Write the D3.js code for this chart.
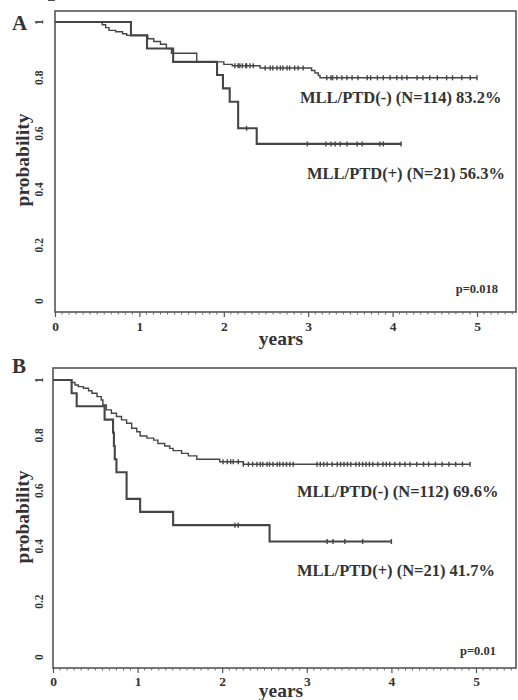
<!DOCTYPE html>
<html><head><meta charset="utf-8">
<script src="https://cdn.jsdelivr.net/npm/d3@7"></script>
<style>
html,body{margin:0;padding:0;background:#fff;}
svg{display:block;}
text{font-family:"Liberation Serif","Times New Roman",serif;fill:#333;}
</style></head>
<body>
<script>
// ---- data ----
const xTicks = [0, 1, 2, 3, 4, 5];
const yTicks = [0, 0.2, 0.4, 0.6, 0.8, 1];
const yTickLabels = ["0", "0.2", "0.4", "0.6", "0.8", "1"];

// Panel A : MLL/PTD(-)
const aNegTimes = [0, 0.56, 0.6, 0.64, 0.72, 0.8, 0.85, 1.1, 1.17, 1.25, 1.32, 1.38, 1.68, 2.0, 2.1, 2.43, 3.04, 3.08, 3.12, 3.14];
const aNegSurv  = [1, 0.99, 0.98, 0.97, 0.965, 0.958, 0.952, 0.94, 0.93, 0.92, 0.905, 0.888, 0.857, 0.848, 0.843, 0.835, 0.826, 0.817, 0.808, 0.80];
const aNegEnd = 5.0;
const aNegCensor = [2.13, 2.17, 2.19, 2.22, 2.26, 2.27, 2.31, 2.35, 2.49, 2.55, 2.58, 2.63, 2.67, 2.70, 2.75, 2.78, 2.84, 2.88, 2.94,
  3.22, 3.27, 3.29, 3.34, 3.40, 3.46, 3.52, 3.59, 3.70, 3.74, 3.82, 3.89, 3.97, 4.05, 4.11, 4.17, 4.29, 4.36, 4.44, 4.53, 4.64, 4.71, 4.82, 4.92, 5.0];
// Panel A : MLL/PTD(+)
const aPosTimes = [0, 0.9, 1.09, 1.4, 1.92, 1.99, 2.07, 2.17, 2.39];
const aPosSurv  = [1, 0.952, 0.905, 0.857, 0.81, 0.762, 0.714, 0.619, 0.563];
const aPosEnd = 4.1;
const aPosCensor = [2.27, 2.99, 3.21, 3.27, 3.32, 3.38, 3.46, 3.58, 3.64, 3.85, 3.89, 4.1];

// Panel B : MLL/PTD(-)
const bNegTimes = [0, 0.22, 0.26, 0.30, 0.36, 0.42, 0.46, 0.52, 0.57, 0.59, 0.63, 0.69, 0.75, 0.81, 0.87, 0.93, 0.99, 1.03, 1.11, 1.19, 1.24, 1.32, 1.38, 1.42, 1.52, 1.60, 1.70, 1.97, 2.25];
const bNegSurv  = [1, 0.991, 0.982, 0.976, 0.970, 0.961, 0.952, 0.940, 0.928, 0.910, 0.892, 0.880, 0.868, 0.856, 0.844, 0.826, 0.813, 0.798, 0.790, 0.783, 0.771, 0.762, 0.753, 0.745, 0.735, 0.726, 0.714, 0.705, 0.696];
const bNegEnd = 4.93;
const bNegCensor = [2.01, 2.06, 2.1, 2.13, 2.19, 2.25, 2.31, 2.36, 2.41, 2.45, 2.48, 2.53, 2.56, 2.6, 2.65, 2.68, 2.72, 2.76, 2.8, 2.84,
  3.12, 3.16, 3.2, 3.24, 3.3, 3.36, 3.4, 3.44, 3.48, 3.52, 3.58, 3.62, 3.66, 3.7, 3.74, 3.78, 3.84, 3.9, 3.94, 3.98, 4.04, 4.1, 4.16, 4.22, 4.3, 4.38, 4.44, 4.52, 4.6, 4.68, 4.76, 4.84, 4.93];
// Panel B : MLL/PTD(+)
const bPosTimes = [0, 0.22, 0.28, 0.61, 0.71, 0.72, 0.73, 0.75, 0.87, 1.03, 1.42, 2.56];
const bPosSurv  = [1, 0.952, 0.905, 0.857, 0.81, 0.762, 0.714, 0.667, 0.571, 0.524, 0.476, 0.417];
const bPosEnd = 4.0;
const bPosCensor = [2.15, 2.19, 3.24, 3.31, 3.45, 3.66, 4.0];

const panelLetters = ["A", "B"];
const negLabels = ["MLL/PTD(-) (N=114) 83.2%", "MLL/PTD(-) (N=112) 69.6%"];
const posLabels = ["MLL/PTD(+) (N=21) 56.3%", "MLL/PTD(+) (N=21) 41.7%"];
const pLabels = ["p=0.018", "p=0.01"];

// ---- drawing ----
const svg = d3.select("body").append("svg").attr("width", 518).attr("height", 700);
const ink = "#454545";

const panels = [
  {letter: panelLetters[0], neg: [aNegTimes, aNegSurv, aNegEnd, aNegCensor], pos: [aPosTimes, aPosSurv, aPosEnd, aPosCensor],
   negLab: negLabels[0], posLab: posLabels[0], pLab: pLabels[0],
   left: 55, right: 516, top: 11, axisY: 312, x5: 477, y0: 301, y1: 22,
   letterY: 30, negLabY: 103, negLabX: 300, posLabY: 179, posLabX: 307, pY: 293, pX: 498, xLabY: 331, yearsY: 345, probY: 160},
  {letter: panelLetters[1], neg: [bNegTimes, bNegSurv, bNegEnd, bNegCensor], pos: [bPosTimes, bPosSurv, bPosEnd, bPosCensor],
   negLab: negLabels[1], posLab: posLabels[1], pLab: pLabels[1],
   left: 53, right: 516, top: 368, axisY: 668, x5: 476, y0: 657, y1: 380,
   letterY: 373, negLabY: 497, negLabX: 297, posLabY: 576, posLabX: 297, pY: 655, pX: 496, xLabY: 686, yearsY: 697, probY: 517}
];

panels.forEach(P => {
  const g = svg.append("g");
  const x = d3.scaleLinear().domain([0, 5]).range([P.left, P.x5]);
  const y = d3.scaleLinear().domain([0, 1]).range([P.y0, P.y1]);

  // frame
  g.append("rect").attr("x", P.left).attr("y", P.top).attr("width", P.right - P.left).attr("height", P.axisY - P.top)
    .attr("fill", "none").attr("stroke", "#555").attr("stroke-width", 1.6);

  // x axis (major ticks)
  const xAxis = d3.axisBottom(x).tickValues(xTicks).tickSize(5).tickFormat(d3.format("d"));
  const xa = g.append("g").attr("transform", `translate(0,${P.axisY})`).call(xAxis);
  xa.select(".domain").remove();
  xa.selectAll("line").attr("stroke", "#555").attr("stroke-width", 1.2);
  xa.selectAll("text").attr("y", P.xLabY - P.axisY).attr("dy", 0).attr("font-size", 13.5).attr("font-weight", "bold")
    .attr("font-family", "Liberation Serif").attr("fill", "#333");
  // minor monthly ticks
  const minor = d3.range(1, 66).map(i => i / 12).filter(v => x(v) < P.right - 1 && Math.abs(v - Math.round(v)) > 1e-6);
  g.selectAll(".mt").data(minor).join("line").attr("x1", d => x(d)).attr("x2", d => x(d))
    .attr("y1", P.axisY).attr("y2", P.axisY + 2.5).attr("stroke", "#666").attr("stroke-width", 1);

  // y axis
  const yAxis = d3.axisLeft(y).tickValues(yTicks).tickSize(5).tickFormat((d, i) => yTickLabels[i]);
  const ya = g.append("g").attr("transform", `translate(${P.left},0)`).call(yAxis);
  ya.select(".domain").remove();
  ya.selectAll("line").attr("stroke", "#555").attr("stroke-width", 1.2);
  ya.selectAll("text").attr("x", 0).attr("dy", 0).attr("text-anchor", "middle")
    .attr("transform", d => `translate(${43 - P.left},${y(d)}) rotate(-90)`)
    .attr("y", 0).attr("font-size", 11.5).attr("font-weight", "bold").attr("font-family", "Liberation Serif").attr("fill", "#333");
  ya.selectAll(".tick").attr("transform", null);

  // axis titles
  g.append("text").attr("transform", `translate(29,${P.probY}) rotate(-90)`).attr("text-anchor", "middle")
    .attr("font-size", 19.5).attr("font-weight", "bold").text("probability");
  g.append("text").attr("x", 281).attr("y", P.yearsY).attr("text-anchor", "middle")
    .attr("font-size", 19.5).attr("font-weight", "bold").text("years");
  g.append("text").attr("x", 12).attr("y", P.letterY).attr("font-size", 21).attr("font-weight", "bold").text(P.letter);

  // curves
  const line = d3.line().x(d => x(d[0])).y(d => y(d[1])).curve(d3.curveStepAfter);
  function draw(ser, width) {
    const [T, S, end, cens] = ser;
    const pts = T.map((t, i) => [t, S[i]]);
    pts.push([end, S[S.length - 1]]);
    g.append("path").datum(pts).attr("d", line).attr("fill", "none").attr("stroke", ink).attr("stroke-width", width);
    const sAt = t => { let v = S[0]; T.forEach((tt, i) => { if (tt <= t) v = S[i]; }); return v; };
    g.selectAll(null).data(cens).join("line")
      .attr("x1", d => x(d)).attr("x2", d => x(d))
      .attr("y1", d => y(sAt(d)) - 2.5).attr("y2", d => y(sAt(d)) + 2.5)
      .attr("stroke", ink).attr("stroke-width", 1.4);
  }
  draw(P.neg, 1.4);
  draw(P.pos, 2.1);

  // annotations
  g.append("text").attr("x", P.negLabX).attr("y", P.negLabY).attr("font-size", 16.5).attr("font-weight", "bold").text(P.negLab);
  g.append("text").attr("x", P.posLabX).attr("y", P.posLabY).attr("font-size", 16.5).attr("font-weight", "bold").text(P.posLab);
  g.append("text").attr("x", P.pX).attr("y", P.pY).attr("text-anchor", "end").attr("font-size", 12.5).attr("font-weight", "bold").text(P.pLab);
});
</script>
</body></html>
